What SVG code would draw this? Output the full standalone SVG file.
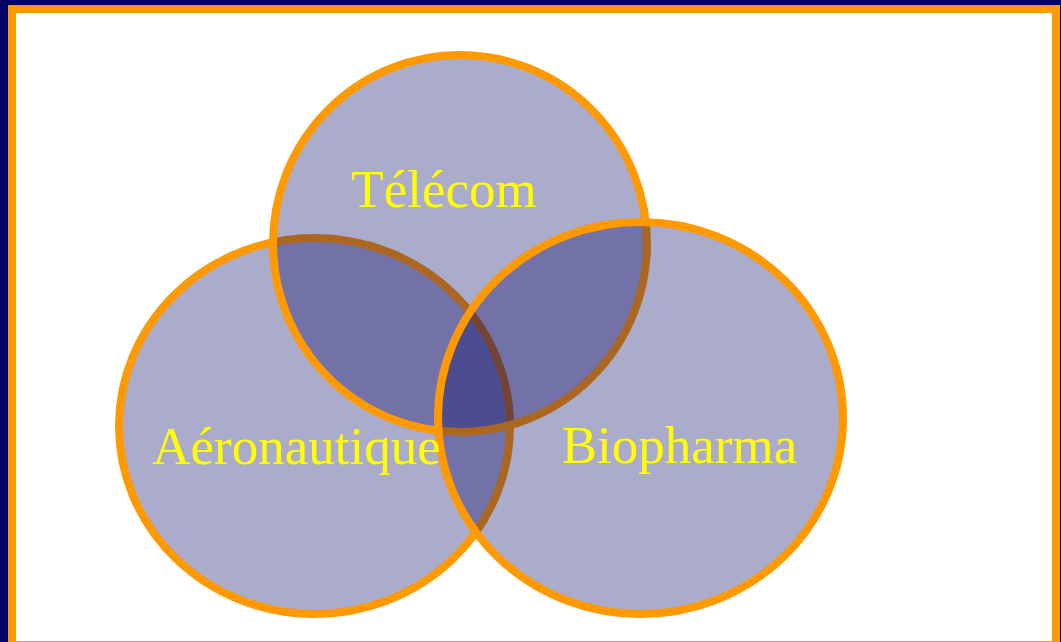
<svg xmlns="http://www.w3.org/2000/svg" width="1061" height="642" viewBox="0 0 1061 642">
  <style>
    .set { fill: #000060; fill-opacity: 0.33; stroke: #FF9900; stroke-width: 8; }
    .lbl { font-family: "Liberation Serif", "Times New Roman", serif; font-size: 53px; fill: #FFFF00; text-anchor: middle; }
  </style>
  <rect x="0" y="0" width="1061" height="642" fill="#000066"/>
  <rect x="8" y="5" width="1052" height="637" fill="#FF9900"/>
  <rect x="16" y="13" width="1036" height="628" fill="#FFFFFF"/>
  <g id="aeronautique">
    <ellipse class="set" cx="314.5" cy="426" rx="195.5" ry="188"/>
  </g>
  <g id="telecom">
    <ellipse class="set" cx="460" cy="243.5" rx="187" ry="188.5"/>
  </g>
  <g id="biopharma">
    <ellipse class="set" cx="640.5" cy="418" rx="202.5" ry="196"/>
  </g>
  <g id="labels">
    <text class="lbl" x="444" y="207">Télécom</text>
    <text class="lbl" x="296.5" y="464">Aéronautique</text>
    <text class="lbl" x="679.5" y="463">Biopharma</text>
  </g>
</svg>
